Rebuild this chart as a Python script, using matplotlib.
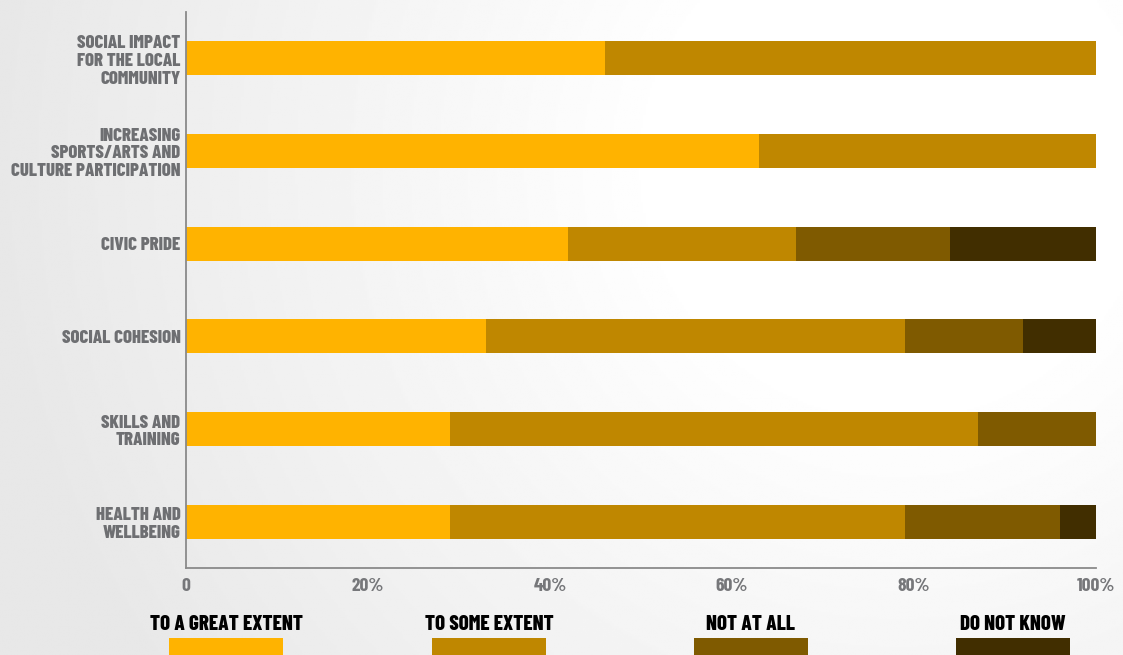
import numpy as np
import matplotlib
matplotlib.use("Agg")
import matplotlib.pyplot as plt
from matplotlib.patches import Rectangle
from matplotlib.ticker import FuncFormatter

# survey results, percent of respondents per answer
categories = [
    "SOCIAL IMPACT\nFOR THE LOCAL\nCOMMUNITY",
    "INCREASING\nSPORTS/ARTS AND\nCULTURE PARTICIPATION",
    "CIVIC PRIDE",
    "SOCIAL COHESION",
    "SKILLS AND\nTRAINING",
    "HEALTH AND\nWELLBEING",
]
great_extent = [46, 63, 42, 33, 29, 29]
some_extent = [54, 37, 25, 46, 58, 50]
not_at_all = [0, 0, 17, 13, 13, 17]
do_not_know = [0, 0, 16, 8, 0, 4]

answers = ["TO A GREAT EXTENT", "TO SOME EXTENT", "NOT AT ALL", "DO NOT KNOW"]
colors = ["#FFB300", "#BF8700", "#7F5A00", "#412E00"]
x_ticks = [0, 20, 40, 60, 80, 100]

font = ["Barlow Condensed", "Asap Condensed", "DejaVu Sans"]
grey = "#6E6F72"

fig = plt.figure(figsize=(11.23, 6.55), dpi=100)

# soft light-grey backdrop, brightest toward the upper right
bg = fig.add_axes([0, 0, 1, 1], zorder=-10)
yy, xx = np.mgrid[0:1:300j, 0:1:500j]
d = np.sqrt(((xx - 0.8) * 1.7) ** 2 + (yy - 0.25) ** 2)
shade = 1.0 - 0.09 * np.clip((d - 0.35) / 1.0, 0, 1)
bg.imshow(shade, cmap="gray", vmin=0, vmax=1, aspect="auto", extent=[0, 1, 1, 0])
bg.set_xlim(0, 1)
bg.set_ylim(1, 0)
bg.axis("off")

ax = fig.add_axes([186 / 1123, 1 - 568 / 655, 910 / 1123, 556 / 655])
ax.patch.set_alpha(0)

y = np.arange(len(categories))
series = [great_extent, some_extent, not_at_all, do_not_know]
left = np.zeros(len(categories))
for vals, c in zip(series, colors):
    ax.barh(y, vals, left=left, height=0.37, color=c, linewidth=0)
    left += np.array(vals)

ax.set_xlim(0, 100)
ax.set_ylim(5.5, -0.5)
ax.set_yticks(y)
ax.set_yticklabels(categories, fontfamily=font, fontweight=800, fontsize=13.5,
                   color=grey, linespacing=1.14)
ax.set_xticks(x_ticks)
ax.xaxis.set_major_formatter(FuncFormatter(lambda v, p: "0" if v == 0 else f"{v:.0f}%"))
for lab in ax.get_xticklabels():
    lab.set_fontfamily(font)
    lab.set_fontweight("bold")
    lab.set_fontsize(14)
    lab.set_color("#76777A")
ax.tick_params(axis="both", length=0)
ax.tick_params(axis="y", pad=4)
ax.tick_params(axis="x", pad=7)

for s in ["top", "right"]:
    ax.spines[s].set_visible(False)
for s in ["left", "bottom"]:
    ax.spines[s].set_color("#8A8A8A")
    ax.spines[s].set_linewidth(1.3)

# legend row along the bottom edge
centers = [226, 489, 751, 1013]
for name, c, cx in zip(answers, colors, centers):
    fig.text(cx / 1123, 1 - 625 / 655, name, ha="center", va="center",
             fontfamily=font, fontweight=800, fontsize=15, color="black")
    fig.patches.append(Rectangle(((cx - 57) / 1123, 0), 114 / 1123, 17 / 655,
                                 transform=fig.transFigure, color=c, linewidth=0))

fig.savefig("out.png", dpi=100)
